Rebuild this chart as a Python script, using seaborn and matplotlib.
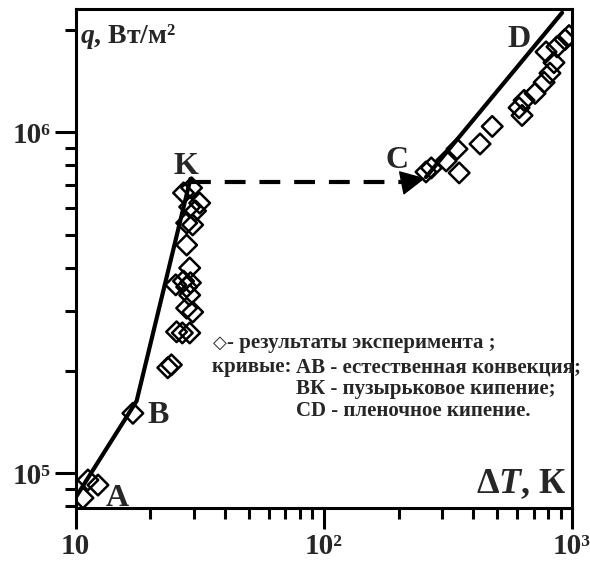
import matplotlib
matplotlib.use("Agg")
import matplotlib.pyplot as plt
import numpy as np
import pandas as pd
import seaborn as sns

# Experimental points: temperature difference dT (K) and heat flux q (W/m^2)
exp_dT = [11.2, 12.3, 10.7,
          17.0,
          27.2, 29.3, 31.6, 28.8, 30.4, 28.0, 29.6, 28.0, 28.8, 27.2, 29.0,
          25.3, 28.0, 28.8, 28.0, 29.6, 25.5, 26.9, 28.8, 23.5, 24.3,
          258, 271, 311, 344, 351, 426, 477, 612, 629, 641, 710, 772, 815,
          846, 786, 870, 937, 973]
exp_q = [9.56e4, 9.24e4, 8.47e4,
         1.50e5,
         6.64e5, 6.87e5, 6.20e5, 6.04e5, 5.88e5, 5.42e5, 5.35e5, 4.67e5,
         4.00e5, 3.66e5, 3.62e5, 3.57e5, 3.52e5, 3.33e5, 3.05e5, 2.97e5,
         2.60e5, 2.58e5, 2.58e5, 2.04e5, 2.08e5,
         7.65e5, 7.86e5, 8.24e5, 8.93e5, 7.60e5, 9.24e5, 1.04e6, 1.18e6,
         1.12e6, 1.24e6, 1.30e6, 1.40e6, 1.49e6, 1.60e6, 1.72e6, 1.78e6,
         1.87e6, 1.92e6]

# Curves: A-B (natural convection) and B-K (nucleate boiling)
abk_dT = [10.0, 17.6, 29.0]
abk_q = [8.5e4, 1.63e5, 7.3e5]
# C-D (film boiling)
cd_dT = [258, 912]
cd_q = [7.39e5, 2.24e6]
# crisis jump K -> C
jump_dT = [29.0, 207]
jump_q = [7.15e5, 7.15e5]
jump_tip = (256, 7.33e5)
jump_tail = (207, 7.11e5)

# point labels
label_txt = ["A", "B", "K", "C", "D"]
label_dT = [14.75, 21.4, 27.7, 197.6, 612]
label_q = [8.45e4, 1.48e5, 7.95e5, 8.29e5, 1.87e6]

x_ticks = [10, 100, 1000]
x_ticklabels = ["10", "10²", "10³"]
y_ticks = [1e5, 1e6]
y_ticklabels = ["10⁵", "10⁶"]

legend_marker = "◇"
legend_lines = ["- результаты эксперимента ;",
                "кривые: ",
                "АВ - естественная конвекция;",
                "ВК - пузырьковое кипение;",
                "CD - пленочное кипение."]

sns.set_theme(style="ticks")
plt.rcParams["font.family"] = ["Liberation Serif", "DejaVu Serif"]
plt.rcParams["font.weight"] = "bold"
plt.rcParams["mathtext.fontset"] = "custom"
plt.rcParams["mathtext.rm"] = "Liberation Serif:bold"
plt.rcParams["mathtext.it"] = "Liberation Serif:italic:bold"
plt.rcParams["mathtext.bf"] = "Liberation Serif:bold"
plt.rcParams["lines.scale_dashes"] = False

fig = plt.figure(figsize=(5.9, 5.65), dpi=100)
ax = fig.add_axes([0.1283, 0.1014, 0.8412, 0.8818])
ax.set_xscale("log")
ax.set_yscale("log")

exp_df = pd.DataFrame({"dT": exp_dT, "q": exp_q})
sns.scatterplot(data=exp_df, x="dT", y="q", marker="D", s=110,
                facecolor="none", edgecolor="black", linewidth=1.8,
                ax=ax, zorder=2)

sns.lineplot(x=abk_dT, y=abk_q, color="black", linewidth=3.0, ax=ax,
             sort=False, zorder=3)
sns.lineplot(x=cd_dT, y=cd_q, color="black", linewidth=3.0, ax=ax,
             sort=False, zorder=3)
sns.lineplot(x=jump_dT, y=jump_q, color="black", linewidth=3.0, ax=ax,
             sort=False, zorder=3)
ax.lines[-1].set_dashes([15, 10])

ax.annotate("", xy=jump_tip, xytext=jump_tail,
            arrowprops=dict(arrowstyle="-|>,head_length=0.4,head_width=0.2",
                            color="black", lw=1, mutation_scale=40,
                            shrinkA=0, shrinkB=0), zorder=4)

for t, xv, yv in zip(label_txt, label_dT, label_q):
    ax.text(xv, yv, t, fontsize=23, fontweight="bold", ha="center",
            va="center", zorder=5)

ax.set_xlim(10, 1000)
ax.set_ylim(7.93e4, 2.29e6)

ax.set_xticks(x_ticks)
ax.set_xticklabels(x_ticklabels)
ax.set_yticks(y_ticks)
ax.set_yticklabels(y_ticklabels)
ax.xaxis.set_minor_locator(matplotlib.ticker.LogLocator(base=10, subs=np.arange(2, 10)))
ax.yaxis.set_minor_locator(matplotlib.ticker.LogLocator(base=10, subs=np.arange(2, 10)))
ax.xaxis.set_minor_formatter(matplotlib.ticker.NullFormatter())
ax.yaxis.set_minor_formatter(matplotlib.ticker.NullFormatter())
ax.tick_params(which="major", length=15, width=2.2, direction="out",
               color="black", labelsize=21, pad=3)
ax.tick_params(which="minor", length=8, width=2.2, direction="out",
               color="black")
ax.tick_params(top=False, right=False, which="both")
for lab in ax.get_xticklabels() + ax.get_yticklabels():
    lab.set_fontweight("bold")
for sp in ax.spines.values():
    sp.set_linewidth(2.2)
    sp.set_color("black")
ax.set_xlabel("")
ax.set_ylabel("")

ax.text(0.009, 0.933, "$q$, Вт/м²", transform=ax.transAxes, fontsize=20,
        fontweight="bold", ha="left", va="baseline")
ax.text(0.99, 0.03, "Δ$T$, К", transform=ax.transAxes, fontsize=26,
        fontweight="bold", ha="right", va="baseline")

# annotation block: marker key and curve descriptions
leg_fs = 15
ax.text(0.2767, 0.3306, legend_marker, transform=ax.transAxes, fontsize=13,
        family=["DejaVu Sans"], ha="left", va="center")
ax.text(0.305, 0.3306, legend_lines[0], transform=ax.transAxes,
        fontsize=leg_fs, fontweight="bold", ha="left", va="center")
head = ax.text(0.2746, 0.2824, legend_lines[1], transform=ax.transAxes,
               fontsize=leg_fs, fontweight="bold", ha="left", va="center")
renderer = fig.canvas.get_renderer()
bb = head.get_window_extent(renderer=renderer)
x_indent = ax.transAxes.inverted().transform((bb.x1, bb.y0))[0] - 0.002
ax.text(x_indent, 0.2824, legend_lines[2], transform=ax.transAxes,
        fontsize=leg_fs, fontweight="bold", ha="left", va="center")
ax.text(x_indent, 0.2383, legend_lines[3], transform=ax.transAxes,
        fontsize=leg_fs, fontweight="bold", ha="left", va="center")
ax.text(x_indent, 0.1941, legend_lines[4], transform=ax.transAxes,
        fontsize=leg_fs, fontweight="bold", ha="left", va="center")

fig.savefig("out.png", dpi=100)
